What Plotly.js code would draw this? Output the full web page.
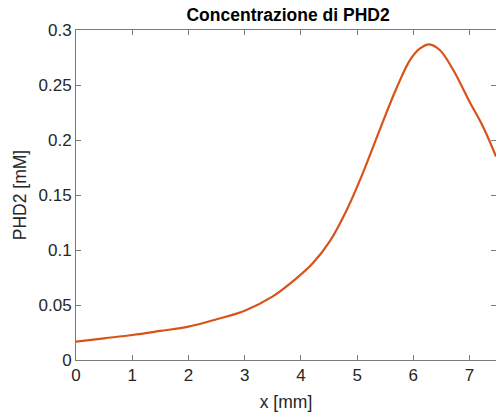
<!DOCTYPE html>
<html>
<head>
<meta charset="utf-8">
<script src="https://cdn.plot.ly/plotly-3.0.1.min.js"></script>
<style>html,body{margin:0;padding:0;background:#fff;overflow:hidden;}#chart{width:496px;height:417px;}</style>
</head>
<body>
<div id="chart"></div>
<script>
const xValues = [0, 0.5, 1, 1.5, 2, 2.5, 3, 3.5, 3.92, 4.21, 4.51, 4.8, 5.1, 5.4, 5.7, 5.94, 6.12, 6.28, 6.47, 6.71, 7.0, 7.24, 7.47];
const phd2Values = [0.0167, 0.0197, 0.0227, 0.0264, 0.0303, 0.037, 0.0448, 0.0578, 0.0742, 0.0879, 0.1076, 0.1348, 0.1697, 0.209, 0.247, 0.2727, 0.2833, 0.287, 0.2818, 0.2636, 0.2348, 0.212, 0.185];
const xTicks = [0, 1, 2, 3, 4, 5, 6, 7];
const yTicks = [0, 0.05, 0.1, 0.15, 0.2, 0.25, 0.3];
const yTickLabels = ['0', '0.05', '0.1', '0.15', '0.2', '0.25', '0.3'];

const font = 'Liberation Sans, Arial, Helvetica, sans-serif';
const axisColor = '#7a7a7a';
const textColor = '#262626';

const trace = {
  x: xValues, y: phd2Values, type: 'scatter', mode: 'lines',
  line: {color: '#D95319', width: 2.2, shape: 'spline', smoothing: 1},
  hoverinfo: 'skip'
};

const layout = {
  width: 496, height: 417,
  margin: {l: 76, r: 0, t: 30, b: 57},
  paper_bgcolor: '#ffffff', plot_bgcolor: '#ffffff',
  showlegend: false,
  font: {family: font, color: textColor, size: 17},
  title: {text: '<b>Concentrazione di PHD2</b>', font: {family: font, size: 17.5, color: '#000000'},
    x: 0.505, xref: 'paper', xanchor: 'center', y: 1 - 15/417, yref: 'container', yanchor: 'middle'},
  xaxis: {
    range: [0, 7.47], tickvals: xTicks, ticktext: xTicks.map(String),
    ticks: 'inside', ticklen: 5, tickcolor: axisColor, tickwidth: 1,
    showline: true, linecolor: axisColor, linewidth: 1, mirror: 'ticks',
    showgrid: false, zeroline: false,
    tickfont: {family: font, size: 17, color: textColor},
    title: {text: 'x [mm]', font: {family: font, size: 17.5, color: textColor}, standoff: 11}
  },
  yaxis: {
    range: [0, 0.3], tickvals: yTicks, ticktext: yTickLabels,
    ticks: 'inside', ticklen: 5, tickcolor: axisColor, tickwidth: 1,
    showline: true, linecolor: axisColor, linewidth: 1, mirror: 'ticks',
    showgrid: false, zeroline: false,
    tickfont: {family: font, size: 17, color: textColor},
    title: {text: 'PHD2 [mM]', font: {family: font, size: 17.5, color: textColor}, standoff: 7}
  }
};

Plotly.newPlot('chart', [trace], layout, {staticPlot: true, displayModeBar: false});
</script>
</body>
</html>
